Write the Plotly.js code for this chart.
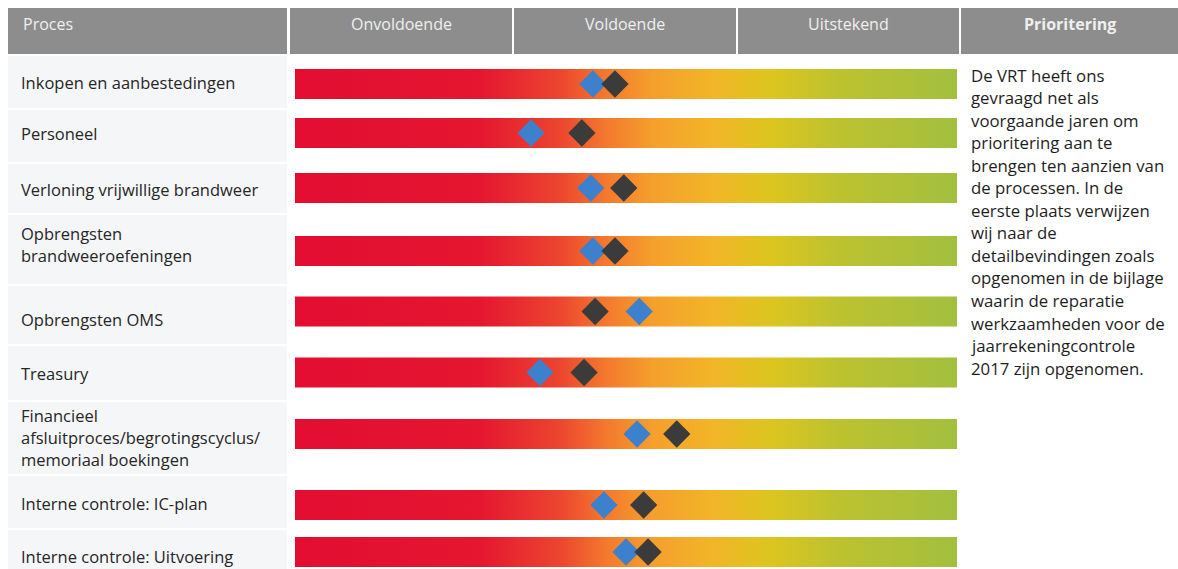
<!DOCTYPE html>
<html><head><meta charset="utf-8">
<script src="https://cdn.plot.ly/plotly-3.0.1.min.js"></script>
<style>html,body{margin:0;padding:0;background:#fff;}#chart{width:1178px;height:569px;}</style>
</head><body><div id="chart"></div>
<script>
// ---- data ----
const processes = [
  "Inkopen en aanbestedingen",
  "Personeel",
  "Verloning vrijwillige brandweer",
  "Opbrengsten<br>brandweeroefeningen",
  "Opbrengsten OMS",
  "Treasury",
  "Financieel<br>afsluitproces/begrotingscyclus/<br>memoriaal boekingen",
  "Interne controle: IC-plan",
  "Interne controle: Uitvoering"
];
const scoreBlue = [1.35, 1.07, 1.34, 1.35, 1.56, 1.11, 1.55, 1.40, 1.50];
const scoreDark = [1.45, 1.30, 1.49, 1.45, 1.36, 1.31, 1.73, 1.58, 1.60];
const columnHeaders = ["Proces", "Onvoldoende", "Voldoende", "Uitstekend", "Prioritering"];
const prioriteringText = [
  "De VRT heeft ons",
  "gevraagd net als",
  "voorgaande jaren om",
  "prioritering aan te",
  "brengen ten aanzien van",
  "de processen. In de",
  "eerste plaats verwijzen",
  "wij naar de",
  "detailbevindingen zoals",
  "opgenomen in de bijlage",
  "waarin de reparatie",
  "werkzaamheden voor de",
  "jaarrekeningcontrole",
  "2017 zijn opgenomen."
];

// ---- layout geometry (pixels) ----
const W = 1178, H = 569;
const barCenter = [84, 133, 188, 251, 311.5, 372.5, 434, 505, 552];
const barHalf = 15;
const cellTop = [56, 110, 164, 215, 286, 346, 402, 476, 530];
const cellBottom = [108, 162, 213, 284, 344, 400, 474, 528, 569];
const labelCenter = [82, 133, 189, 244, 319, 373, 437, 503, 556];
const labelLineH = 22;
const headerCells = [[8, 287], [290, 512], [514, 736], [738, 959], [961, 1178]];
const headerTop = 8, headerBottom = 54, headerTextY = 24;
const textFont = "Open Sans";
const gradScale = [[0, '#e30d31'], [0.28, '#e51630'], [0.40, '#ec452f'], [0.47, '#f4792d'], [0.54, '#f59f2c'], [0.63, '#f2b527'], [0.72, '#dcc51f'], [0.82, '#bdc22f'], [1, '#a3bf3f']];

const px = v => v / W;
const shapes = [];
const annotations = [];

// header
headerCells.forEach((c, i) => {
  shapes.push({type: 'rect', xref: 'paper', yref: 'y', x0: px(c[0]), x1: px(c[1]), y0: headerTop, y1: headerBottom,
    fillcolor: '#8d8d8d', line: {width: 0}, layer: 'below'});
  annotations.push({
    xref: 'paper', yref: 'y', x: i === 0 ? px(c[0] + 13) : px((c[0] + c[1]) / 2), y: headerTextY,
    xanchor: i === 0 ? 'left' : 'center', yanchor: 'middle', showarrow: false,
    text: i === 4 ? '<b>' + columnHeaders[i] + '</b>' : columnHeaders[i],
    font: {family: textFont, size: 16, color: '#efefef'}
  });
});

// left process cells + labels
processes.forEach((p, i) => {
  shapes.push({type: 'rect', xref: 'paper', yref: 'y', x0: px(8), x1: px(287), y0: cellTop[i], y1: cellBottom[i],
    fillcolor: '#f5f6f8', line: {width: 0}, layer: 'below'});
  const lines = p.split('<br>');
  lines.forEach((ln, k) => {
    annotations.push({
      xref: 'paper', yref: 'y', x: px(19), y: labelCenter[i] + (k - (lines.length - 1) / 2) * labelLineH,
      xanchor: 'left', yanchor: 'middle', showarrow: false, text: ln,
      font: {family: textFont, size: 16.5, color: '#262626'}
    });
  });
});

// prioritering text
prioriteringText.forEach((ln, k) => {
  annotations.push({
    xref: 'paper', yref: 'y', x: px(969), y: 75 + k * 22.55,
    xanchor: 'left', yanchor: 'middle', showarrow: false, text: ln,
    font: {family: textFont, size: 16.8, color: '#1e1e1e'}
  });
});

const traces = [];
// gradient bars
processes.forEach((p, i) => {
  traces.push({
    type: 'scatter', mode: 'lines', x: [0, 3, 3, 0, 0],
    y: [barCenter[i] - barHalf, barCenter[i] - barHalf, barCenter[i] + barHalf, barCenter[i] + barHalf, barCenter[i] - barHalf],
    fill: 'toself', fillgradient: {type: 'horizontal', colorscale: gradScale, start: 0, stop: 3},
    line: {width: 0}, hoverinfo: 'skip', showlegend: false
  });
});
traces.push({
  type: 'scatter', mode: 'markers', x: scoreBlue, y: barCenter, name: 'blauw',
  marker: {symbol: 'diamond', size: 21, color: '#3d80cc', line: {width: 0}}, showlegend: false
});
traces.push({
  type: 'scatter', mode: 'markers', x: scoreDark, y: barCenter, name: 'donker',
  marker: {symbol: 'diamond', size: 21, color: '#3b3b3b', line: {width: 0}}, showlegend: false
});

const layout = {
  width: W, height: H, margin: {l: 0, r: 0, t: 0, b: 0},
  paper_bgcolor: '#ffffff', plot_bgcolor: 'rgba(0,0,0,0)',
  xaxis: {domain: [px(295), px(957)], range: [0, 3], visible: false, fixedrange: true},
  yaxis: {domain: [0, 1], range: [H, 0], visible: false, fixedrange: true},
  shapes: shapes, annotations: annotations, showlegend: false
};
Plotly.newPlot('chart', traces, layout, {staticPlot: true, displayModeBar: false});
</script>
</body></html>
